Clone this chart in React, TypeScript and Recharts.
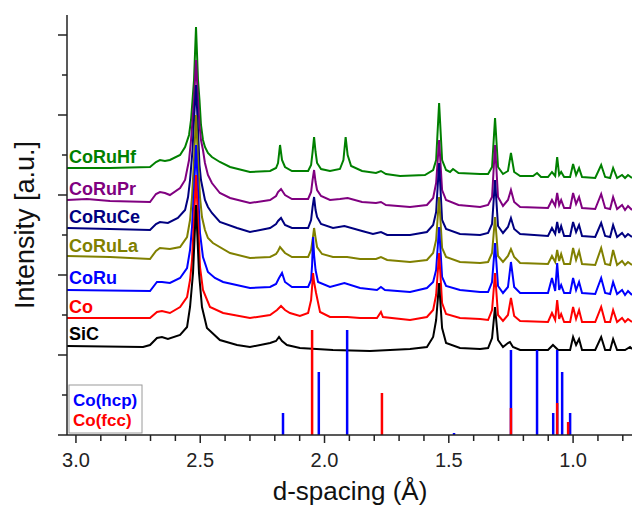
import { LineChart, Line, XAxis, YAxis, ReferenceLine } from "recharts"

type Pt = [number, number]

// d-spacing (Å), intensity (a.u., offset already included)
const hfCurve: Pt[] = [
  [3.036, 267], [2.863, 267], [2.702, 268], [2.678, 273], [2.662, 275], [2.642, 274], [2.622, 275],
  [2.581, 280], [2.561, 288], [2.545, 300], [2.537, 315], [2.531, 335], [2.525, 355], [2.517, 408],
  [2.509, 355], [2.503, 335], [2.497, 310], [2.489, 295], [2.481, 288], [2.469, 282], [2.453, 278],
  [2.421, 273], [2.38, 268], [2.3, 263], [2.219, 264], [2.195, 267], [2.187, 272], [2.179, 290],
  [2.171, 275], [2.159, 268], [2.131, 264], [2.066, 264], [2.054, 270], [2.048, 283], [2.042, 298],
  [2.036, 283], [2.03, 272], [2.014, 266], [1.978, 264], [1.938, 266], [1.924, 275], [1.915, 298],
  [1.907, 280], [1.893, 269], [1.849, 264], [1.793, 262], [1.773, 264], [1.753, 261], [1.696, 259],
  [1.596, 260], [1.563, 265], [1.551, 275], [1.539, 332], [1.527, 275], [1.511, 265], [1.495, 263],
  [1.483, 266], [1.461, 262], [1.374, 261], [1.342, 261], [1.326, 268], [1.314, 317], [1.302, 268],
  [1.282, 261], [1.262, 264], [1.25, 282], [1.237, 263], [1.213, 259], [1.161, 259], [1.145, 262],
  [1.129, 258], [1.101, 258], [1.085, 263], [1.072, 259], [1.064, 278], [1.056, 260], [1.048, 263],
  [1.036, 258], [1.012, 258], [1.0, 271], [0.988, 260], [0.976, 267], [0.964, 258], [0.911, 257],
  [0.887, 270], [0.871, 258], [0.851, 257], [0.839, 267], [0.823, 257], [0.803, 260], [0.791, 257],
  [0.779, 260], [0.763, 257],
]

const prCurve: Pt[] = [
  [3.036, 235], [2.956, 236], [2.863, 234], [2.702, 233], [2.678, 241], [2.662, 243], [2.642, 242],
  [2.622, 240], [2.581, 247], [2.561, 255], [2.545, 275], [2.537, 295], [2.531, 315], [2.525, 335],
  [2.517, 375], [2.509, 335], [2.503, 310], [2.497, 295], [2.489, 285], [2.481, 272], [2.469, 260],
  [2.453, 252], [2.421, 242], [2.38, 237], [2.3, 232], [2.219, 235], [2.195, 239], [2.187, 243],
  [2.175, 246], [2.159, 240], [2.131, 236], [2.066, 236], [2.054, 243], [2.048, 255], [2.042, 265],
  [2.036, 253], [2.03, 245], [2.014, 239], [1.978, 235], [1.938, 236], [1.907, 237], [1.849, 233],
  [1.793, 232], [1.773, 233], [1.753, 230], [1.656, 228], [1.588, 230], [1.563, 237], [1.551, 252],
  [1.539, 295], [1.527, 245], [1.511, 235], [1.461, 230], [1.374, 228], [1.342, 230], [1.326, 238],
  [1.314, 290], [1.302, 238], [1.282, 229], [1.262, 235], [1.25, 245], [1.237, 233], [1.213, 228],
  [1.101, 227], [1.085, 235], [1.072, 229], [1.064, 242], [1.056, 230], [1.048, 235], [1.036, 227],
  [1.012, 227], [1.0, 242], [0.988, 231], [0.976, 238], [0.964, 227], [0.911, 226], [0.887, 241],
  [0.871, 227], [0.851, 226], [0.839, 238], [0.823, 226], [0.803, 230], [0.791, 225], [0.779, 229],
  [0.763, 225],
]

const ceCurve: Pt[] = [
  [3.036, 207], [2.863, 206], [2.702, 205], [2.678, 211], [2.662, 213], [2.63, 212], [2.59, 217],
  [2.561, 225], [2.549, 238], [2.541, 255], [2.531, 285], [2.525, 315], [2.517, 350], [2.509, 305],
  [2.503, 270], [2.497, 255], [2.489, 245], [2.481, 235], [2.469, 228], [2.453, 222], [2.421, 213],
  [2.352, 207], [2.3, 203], [2.219, 207], [2.195, 211], [2.187, 214], [2.175, 217], [2.159, 210],
  [2.131, 207], [2.066, 207], [2.054, 215], [2.048, 228], [2.042, 238], [2.036, 225], [2.03, 218],
  [2.014, 211], [1.966, 207], [1.92, 209], [1.849, 204], [1.805, 201], [1.773, 203], [1.748, 200],
  [1.656, 200], [1.588, 203], [1.563, 210], [1.551, 223], [1.539, 272], [1.527, 215], [1.511, 206],
  [1.455, 201], [1.374, 200], [1.342, 202], [1.326, 211], [1.314, 255], [1.302, 209], [1.282, 202],
  [1.262, 208], [1.25, 217], [1.237, 206], [1.213, 201], [1.101, 199], [1.085, 207], [1.072, 201],
  [1.064, 213], [1.056, 202], [1.048, 209], [1.036, 199], [1.012, 199], [1.0, 213], [0.988, 203],
  [0.976, 210], [0.964, 199], [0.911, 198], [0.887, 212], [0.871, 199], [0.851, 198], [0.839, 210],
  [0.823, 198], [0.803, 202], [0.791, 198], [0.779, 201], [0.763, 198],
]

const laCurve: Pt[] = [
  [3.036, 179], [2.863, 178], [2.702, 176], [2.678, 184], [2.662, 187], [2.622, 186], [2.581, 188],
  [2.553, 198], [2.541, 215], [2.533, 238], [2.525, 275], [2.517, 320], [2.509, 275], [2.501, 238],
  [2.493, 218], [2.481, 205], [2.469, 197], [2.449, 192], [2.38, 182], [2.3, 177], [2.219, 178],
  [2.195, 181], [2.187, 184], [2.179, 188], [2.159, 182], [2.131, 178], [2.066, 178], [2.054, 185],
  [2.048, 195], [2.042, 207], [2.036, 197], [2.03, 188], [2.01, 181], [1.966, 178], [1.909, 178],
  [1.857, 176], [1.793, 176], [1.773, 178], [1.748, 175], [1.656, 173], [1.588, 175], [1.563, 182],
  [1.551, 195], [1.539, 238], [1.527, 187], [1.511, 178], [1.455, 173], [1.374, 172], [1.342, 173],
  [1.326, 182], [1.314, 218], [1.302, 179], [1.282, 173], [1.262, 179], [1.25, 186], [1.237, 178],
  [1.213, 172], [1.101, 171], [1.085, 179], [1.072, 173], [1.064, 185], [1.056, 174], [1.048, 181],
  [1.036, 171], [1.012, 171], [1.0, 187], [0.988, 175], [0.976, 184], [0.964, 171], [0.911, 170],
  [0.887, 187], [0.871, 171], [0.851, 170], [0.839, 185], [0.823, 170], [0.803, 174], [0.791, 170],
  [0.779, 173], [0.763, 170],
]

const coruCurve: Pt[] = [
  [3.036, 145], [2.702, 144], [2.674, 153], [2.654, 153], [2.622, 152], [2.581, 157], [2.553, 167],
  [2.541, 185], [2.533, 208], [2.525, 245], [2.517, 290], [2.509, 245], [2.501, 202], [2.489, 178],
  [2.469, 163], [2.441, 157], [2.408, 153], [2.3, 147], [2.219, 148], [2.195, 151], [2.183, 157],
  [2.171, 162], [2.159, 153], [2.131, 148], [2.066, 148], [2.054, 155], [2.05, 170], [2.046, 198],
  [2.042, 180], [2.036, 165], [2.026, 153], [1.978, 148], [1.92, 152], [1.857, 147], [1.789, 145],
  [1.773, 148], [1.757, 145], [1.656, 143], [1.588, 147], [1.563, 153], [1.551, 165], [1.539, 208],
  [1.527, 158], [1.511, 149], [1.455, 145], [1.374, 143], [1.342, 143], [1.326, 153], [1.314, 192],
  [1.302, 149], [1.282, 142], [1.262, 148], [1.25, 173], [1.237, 148], [1.213, 142], [1.101, 142],
  [1.085, 157], [1.072, 144], [1.064, 172], [1.056, 145], [1.048, 150], [1.036, 142], [1.012, 142],
  [1.0, 157], [0.988, 145], [0.976, 153], [0.964, 142], [0.911, 141], [0.887, 157], [0.871, 142],
  [0.851, 141], [0.839, 153], [0.823, 141], [0.803, 145], [0.791, 140], [0.779, 144], [0.763, 140],
]

const coCurve: Pt[] = [
  [3.036, 117], [2.702, 117], [2.674, 123], [2.654, 124], [2.622, 122], [2.581, 128], [2.553, 138],
  [2.541, 155], [2.533, 175], [2.525, 215], [2.517, 260], [2.509, 215], [2.501, 168], [2.489, 145],
  [2.461, 128], [2.408, 122], [2.3, 117], [2.219, 120], [2.191, 125], [2.175, 129], [2.159, 125],
  [2.139, 122], [2.099, 119], [2.066, 122], [2.054, 135], [2.05, 148], [2.046, 162], [2.042, 153],
  [2.034, 142], [2.018, 123], [1.978, 118], [1.909, 118], [1.857, 117], [1.789, 117], [1.773, 123],
  [1.765, 118], [1.656, 115], [1.588, 118], [1.563, 125], [1.551, 140], [1.539, 182], [1.527, 132],
  [1.511, 121], [1.455, 117], [1.374, 116], [1.342, 115], [1.326, 125], [1.314, 162], [1.302, 120],
  [1.282, 114], [1.262, 120], [1.25, 137], [1.237, 119], [1.213, 114], [1.101, 113], [1.085, 122],
  [1.072, 115], [1.064, 135], [1.056, 116], [1.048, 121], [1.036, 113], [1.012, 113], [1.0, 128],
  [0.988, 116], [0.976, 125], [0.964, 113], [0.911, 113], [0.887, 128], [0.871, 113], [0.851, 113],
  [0.839, 125], [0.823, 113], [0.803, 117], [0.791, 113], [0.779, 116], [0.763, 113],
]

const sicCurve: Pt[] = [
  [3.036, 89], [2.73, 88], [2.702, 90], [2.674, 97], [2.654, 98], [2.63, 96], [2.581, 100],
  [2.553, 108], [2.541, 128], [2.529, 162], [2.517, 230], [2.505, 162], [2.493, 128], [2.473, 107],
  [2.421, 95], [2.352, 90], [2.3, 88], [2.219, 92], [2.195, 94], [2.183, 98], [2.171, 94],
  [2.151, 90], [2.099, 87], [1.966, 85], [1.817, 84], [1.656, 86], [1.588, 88], [1.563, 98],
  [1.551, 115], [1.539, 152], [1.527, 107], [1.511, 92], [1.455, 87], [1.374, 86], [1.342, 87],
  [1.326, 97], [1.314, 128], [1.302, 95], [1.282, 88], [1.262, 92], [1.254, 93], [1.242, 88],
  [1.213, 85], [1.101, 85], [1.081, 90], [1.06, 85], [1.012, 85], [1.0, 98], [0.988, 90],
  [0.976, 96], [0.964, 85], [0.911, 85], [0.887, 98], [0.871, 85], [0.851, 85], [0.839, 96],
  [0.823, 85], [0.791, 85], [0.771, 88], [0.763, 86],
]

const seriesNames = ["CoRuHf", "CoRuPr", "CoRuCe", "CoRuLa", "CoRu", "Co", "SiC"]
const seriesColors = ["#008000", "#800080", "#000080", "#808000", "#0000ff", "#ff0000", "#000000"]
const seriesCurves = [hfCurve, prCurve, ceCurve, laCurve, coruCurve, coCurve, sicCurve]

// reference stick patterns
const hcpD = [2.167, 2.023, 1.909, 1.479, 1.25, 1.145, 1.08, 1.064, 1.044, 1.012]
const hcpI = [22, 63, 105, 2, 85, 85, 22, 85, 63, 22]
const fccD = [2.05, 1.769, 1.25, 1.064, 1.02]
const fccI = [105, 42, 27, 32, 13]

const xTicks = [0.8, 0.9, 1.0, 1.1, 1.2, 1.3, 1.4, 1.5, 1.6, 1.7, 1.8, 1.9, 2.0, 2.1, 2.2, 2.3, 2.4, 2.5, 2.6, 2.7, 2.8, 2.9, 3.0]
const yTicks = [0, 40, 80, 120, 160, 200, 240, 280, 320, 360, 400]

const FONT = "'Liberation Sans', Arial, sans-serif"
const AXIS = "#222"

function XTick(props: any) {
  const { x, y, payload } = props
  const v = payload.value
  const major = Math.abs(v * 2 - Math.round(v * 2)) < 1e-6
  return (
    <g>
      <line x1={x} x2={x} y1={y} y2={y + (major ? 8 : 6)} stroke={AXIS} strokeWidth={1.5} />
      {major && (
        <text x={x} y={y + 32} textAnchor="middle" fontSize={20} fontFamily={FONT} fill="#222">
          {v.toFixed(1)}
        </text>
      )}
    </g>
  )
}

function YTick(props: any) {
  const { x, y, payload } = props
  const major = payload.value % 80 === 0
  return <line x1={x - (major ? 9 : 5)} x2={x} y1={y} y2={y} stroke={AXIS} strokeWidth={1.5} />
}

export default function App() {
  const labelY = [163, 195, 223, 252, 284, 313, 340]
  return (
    <div style={{ position: "absolute", left: 0, top: 0, width: 632, height: 509, background: "#fff" }}>
      <LineChart width={632} height={509} margin={{ top: 15, right: 0, bottom: 0, left: 0 }}>
        <XAxis
          type="number"
          dataKey="d"
          domain={[0.763, 3.036]}
          reversed
          allowDataOverflow
          ticks={xTicks}
          interval={0}
          tickSize={0}
          tickMargin={0}
          tickLine={false}
          tick={(p: any) => <XTick {...p} />}
          height={74}
          stroke={AXIS}
          strokeWidth={1.5}
        />
        <YAxis
          type="number"
          domain={[0, 420]}
          allowDataOverflow
          ticks={yTicks}
          interval={0}
          tickSize={0}
          tickMargin={0}
          tickLine={false}
          tick={(p: any) => <YTick {...p} />}
          width={67}
          stroke={AXIS}
          strokeWidth={1.5}
        />
        {seriesCurves.map((curve, i) => (
          <Line
            key={seriesNames[i]}
            data={curve.map(([d, v]) => ({ d, v }))}
            dataKey="v"
            type="linear"
            stroke={seriesColors[i]}
            strokeWidth={2}
            dot={false}
            activeDot={false}
            isAnimationActive={false}
          />
        ))}
        {hcpD.map((d, i) => (
          <ReferenceLine
            key={"h" + i}
            segment={[{ x: d, y: 0 }, { x: d, y: hcpI[i] }]}
            stroke="#0000ff"
            strokeWidth={2.5}
          />
        ))}
        {fccD.map((d, i) => (
          <ReferenceLine
            key={"f" + i}
            segment={[{ x: d, y: 0 }, { x: d, y: fccI[i] }]}
            stroke="#ff0000"
            strokeWidth={2.5}
          />
        ))}
      </LineChart>
      <svg width={632} height={509} style={{ position: "absolute", left: 0, top: 0, pointerEvents: "none" }}>
        {seriesNames.map((n, i) => (
          <text key={n} x={69} y={labelY[i]} fontSize={18} fontWeight="bold" fontFamily={FONT} fill={seriesColors[i]}>
            {n}
          </text>
        ))}
        <rect x={69} y={385} width={73} height={48} fill="#fff" stroke="#9a9a9a" strokeWidth={1} />
        <text x={73} y={406} fontSize={17} fontWeight="bold" fontFamily={FONT} fill="#0000ff">Co(hcp)</text>
        <text x={73} y={426} fontSize={17} fontWeight="bold" fontFamily={FONT} fill="#ff0000">Co(fcc)</text>
        <text transform="translate(34,225) rotate(-90)" textAnchor="middle" fontSize={27} fontFamily={FONT} fill="#111">
          Intensity [a.u.]
        </text>
        <text x={350} y={500} textAnchor="middle" fontSize={26} fontFamily={FONT} fill="#111">
          d-spacing (Å)
        </text>
      </svg>
    </div>
  )
}
